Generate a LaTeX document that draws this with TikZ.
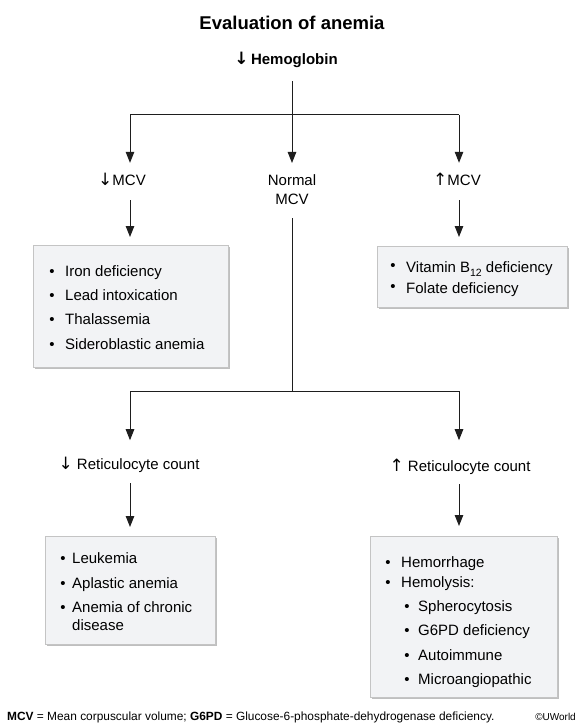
\documentclass[tikz,border=0pt]{standalone}
\usepackage{fontspec}
\setmainfont{Liberation Sans}
\newfontfamily\arrowfont{DejaVu Sans}
\newcommand{\dnarr}{{\arrowfont\fontsize{17}{15}\selectfont ↓}}
\newcommand{\uparr}{{\arrowfont\fontsize{17}{15}\selectfont ↑}}
\usetikzlibrary{arrows.meta,shadows}
\definecolor{boxfill}{HTML}{F2F3F5}
\definecolor{boxline}{HTML}{C4C4C4}
\definecolor{linecol}{HTML}{1E1E1E}
\tikzset{
  conn/.style={draw=linecol, line width=1pt, -{Triangle[length=11pt,width=8.5pt]}},
  plain/.style={draw=linecol, line width=1pt},
  lbl/.style={inner sep=0pt, text height=11pt, text depth=3.5pt, anchor=base, font=\fontsize{15}{19}\selectfont},
  itm/.style={inner sep=0pt, anchor=base west, font=\fontsize{15}{19}\selectfont},
  bul/.style={inner sep=0pt, anchor=base, font=\fontsize{15}{19}\selectfont},
  infobox/.style={draw=boxline, fill=boxfill, line width=0.8pt, anchor=north west, inner sep=0pt,
    drop shadow={shadow xshift=2pt, shadow yshift=-2pt, fill=black!55, opacity=0.45}},
}
\begin{document}
\begin{tikzpicture}[x=1pt,y=-1pt]
\fill[white] (0,0) rectangle (583,727);
\useasboundingbox (0,0) rectangle (583,727);

% title and top
\node[inner sep=0pt, anchor=base, font=\bfseries\fontsize{18.5}{22}\selectfont] (title) at (292,29.6) {Evaluation of anemia};
\node[lbl, font=\bfseries\fontsize{15}{19}\selectfont] (hb) at (286,64.4) {{\bfseries\dnarr}\,Hemoglobin};

% junction coordinates
\coordinate (j1) at (292,115);
\coordinate (jl) at (130,115);
\coordinate (jr) at (459,115);

% MCV level
\node[lbl] (mcvlo) at (122,185.4) {\dnarr MCV};
\node[inner sep=0pt, anchor=north, align=center, font=\fontsize{15}{19}\selectfont] (nm) at (292,174.4) {Normal\\MCV};
\node[lbl] (mcvhi) at (457,185.4) {\uparr MCV};

% boxes top
\node[infobox, minimum width=195pt, minimum height=122pt] (b1) at (33,245) {};
\node[infobox, minimum width=190pt, minimum height=61pt] (b2) at (377,246) {};

\node[bul] (b1a) at (52,276) {•};   \node[itm] (t1a) at (65,276) {Iron deficiency};
\node[bul] (b1b) at (52,300.3) {•}; \node[itm] (t1b) at (65,300.3) {Lead intoxication};
\node[bul] (b1c) at (52,324.6) {•}; \node[itm] (t1c) at (65,324.6) {Thalassemia};
\node[bul] (b1d) at (52,349) {•};   \node[itm] (t1d) at (65,349) {Sideroblastic anemia};

\node[bul] (b2a) at (393,270) {•}; \node[itm] (t2a) at (406,272.5) {Vitamin B\raisebox{-3.5pt}{\fontsize{10.5}{12}\selectfont 12} deficiency};
\node[bul] (b2b) at (393,291) {•}; \node[itm] (t2b) at (406,293.5) {Folate deficiency};

% connectors top
\draw[plain, shorten <=13pt] (hb.south -| j1) -- (j1);
\draw[conn] (j1) -- ([yshift=11.4pt]nm.north);
\draw[plain] (jl) -- (jr);
\draw[conn, shorten >=11.4pt] (jl) -- (jl |- mcvlo.north);
\draw[conn, shorten >=11.4pt] (jr) -- (jr |- mcvhi.north);
\draw[conn, shorten <=11pt, shorten >=8pt] (jl |- mcvlo.south) -- (jl |- b1.north);
\draw[conn, shorten <=11pt, shorten >=9pt] (jr |- mcvhi.south) -- (jr |- b2.north);

% second split
\coordinate (j2) at (292,391);
\coordinate (kl) at (130,391);
\coordinate (kr) at (459,391);
\draw[plain, shorten <=13.6pt] (nm.south) -- (j2);
\draw[plain] (kl) -- (kr);

\node[lbl] (retlo) at (129,469.4) {\dnarr\ Reticulocyte count};
\node[lbl] (rethi) at (460,471.4) {\uparr\ Reticulocyte count};

\draw[conn, shorten >=18pt] (kl) -- (kl |- retlo.north);
\draw[conn, shorten >=20pt] (kr) -- (kr |- rethi.north);

% boxes bottom
\node[infobox, minimum width=170pt, minimum height=108pt] (b3) at (45,536) {};
\node[infobox, minimum width=187pt, minimum height=161pt] (b4) at (370,536) {};

\draw[conn, shorten <=10pt, shorten >=9pt] (kl |- retlo.south) -- (kl |- b3.north);
\draw[conn, shorten <=9pt, shorten >=10pt] (kr |- rethi.south) -- (kr |- b4.north);

\node[bul] (b3a) at (63,563.5) {•}; \node[itm] (t3a) at (72,563.5) {Leukemia};
\node[bul] (b3b) at (63,588.5) {•}; \node[itm] (t3b) at (72,588.5) {Aplastic anemia};
\node[bul] (b3c) at (63,612.5) {•}; \node[itm] (t3c) at (72,612.5) {Anemia of chronic};
\node[itm] (t3d) at (72,630.5) {disease};

\node[bul] (b4a) at (388,567.5) {•}; \node[itm] (t4a) at (401,567.5) {Hemorrhage};
\node[bul] (b4b) at (388,587.5) {•}; \node[itm] (t4b) at (401,587.5) {Hemolysis:};
\node[bul] (b4c) at (407,611.5) {•}; \node[itm] (t4c) at (418,611.5) {Spherocytosis};
\node[bul] (b4d) at (407,635.8) {•}; \node[itm] (t4d) at (418,635.8) {G6PD deficiency};
\node[bul] (b4e) at (407,660.2) {•}; \node[itm] (t4e) at (418,660.2) {Autoimmune};
\node[bul] (b4f) at (407,684.5) {•}; \node[itm] (t4f) at (418,684.5) {Microangiopathic};

% footer
\node[inner sep=0pt, anchor=base west, font=\fontsize{11.9}{13}\selectfont] (foot) at (7,720) {\textbf{MCV} = Mean corpuscular volume; \textbf{G6PD} = Glucose-6-phosphate-dehydrogenase deficiency.};
\node[inner sep=0pt, anchor=base east, font=\fontsize{10}{12}\selectfont] (copy) at (576,720) {©UWorld};
\end{tikzpicture}
\end{document}
